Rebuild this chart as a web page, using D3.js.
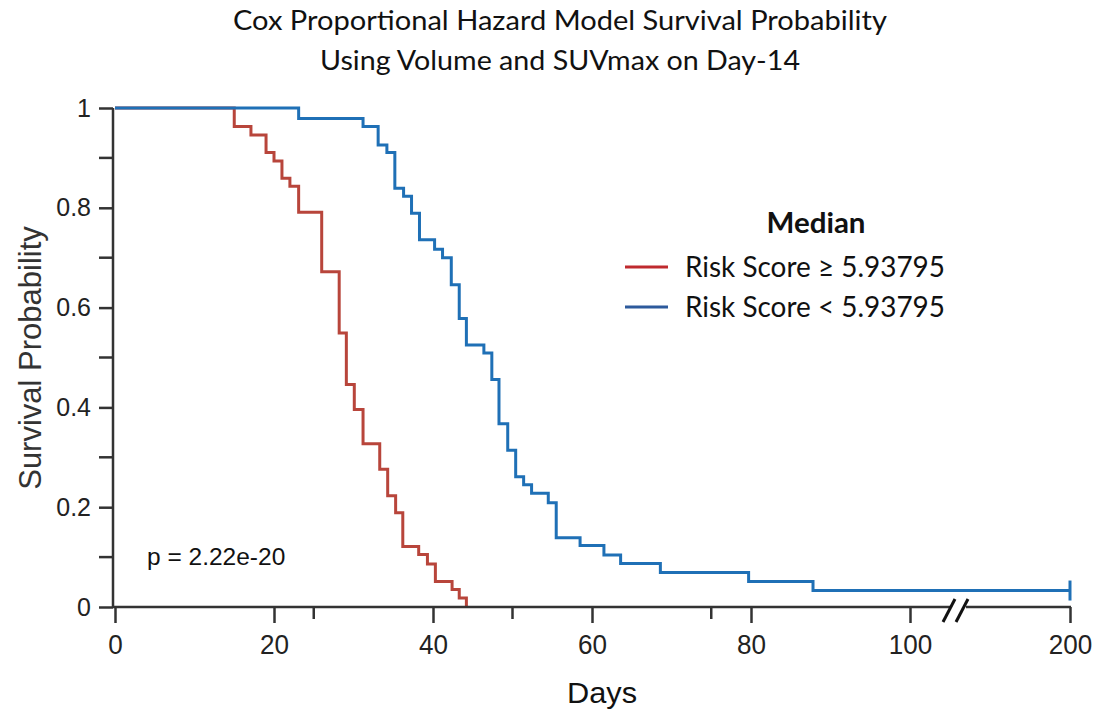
<!DOCTYPE html>
<html>
<head>
<meta charset="utf-8">
<script src="https://cdn.jsdelivr.net/npm/d3@7"></script>
<style>
  html, body { margin: 0; padding: 0; background: #fff; }
  svg { display: block; }
</style>
</head>
<body>
<svg id="chart" width="1107" height="712"></svg>
<script>
// Kaplan–Meier style step data: event times (days) and survival after each drop
const highRiskDays = [0, 15, 17.1, 19, 20, 21, 22, 23.1, 26, 28.2, 29.1, 30.1, 31.2, 33.3, 34.3, 35.3, 36.2, 38.2, 39.3, 40.3, 42.4, 43.3, 44.2];
const highRiskSurv = [1, 0.963, 0.946, 0.911, 0.894, 0.859, 0.843, 0.791, 0.672, 0.549, 0.446, 0.396, 0.327, 0.276, 0.223, 0.189, 0.121, 0.105, 0.086, 0.051, 0.035, 0.018, 0];

const lowRiskDays = [0, 23.1, 31.2, 33.1, 34.2, 35.2, 36.3, 37.3, 38.3, 40.2, 41.2, 42.3, 43.3, 44.2, 46.4, 47.4, 48.3, 49.4, 50.4, 51.4, 52.4, 54.5, 55.5, 58.5, 61.5, 63.6, 68.6, 79.7, 87.8, 200];
const lowRiskSurv = [1, 0.979, 0.963, 0.926, 0.911, 0.839, 0.823, 0.789, 0.736, 0.717, 0.700, 0.646, 0.578, 0.525, 0.509, 0.456, 0.367, 0.314, 0.261, 0.245, 0.228, 0.209, 0.139, 0.123, 0.104, 0.087, 0.069, 0.051, 0.033, 0.033];

const xMajorTicks = [0, 20, 40, 60, 80, 100, 200];
const xMinorTicks = [25, 50, 75];
const yMajorTicks = [0, 0.2, 0.4, 0.6, 0.8, 1];
const yMinorTicks = [0.1, 0.3, 0.5, 0.7, 0.9];

const titleLines = ["Cox Proportional Hazard Model Survival Probability", "Using Volume and SUVmax on Day-14"];
const legendTitle = "Median";
const legendLabels = ["Risk Score \u2265 5.93795", "Risk Score < 5.93795"];
const pLabel = "p = 2.22e-20";

const redCurve = "#b8453b", blueCurve = "#1f70b6";
const redKey = "#bf2a2e", blueKey = "#2d5a9c";
const axisColor = "#333333";

const svg = d3.select("#chart");

// Broken x axis: 0–100 linear, then 100–200 compressed after the break
const x = d3.scaleLinear().domain([0, 100, 200]).range([115, 910, 1070]);
const y = d3.scaleLinear().domain([0, 1]).range([607, 108]);

const toPts = (days, surv) => days.map((d, i) => [d, surv[i]]);
const line = d3.line().x(d => x(d[0])).y(d => y(d[1])).curve(d3.curveStepAfter);

// Curves (high risk under, low risk on top)
svg.append("path").datum(toPts(highRiskDays, highRiskSurv))
  .attr("d", line).attr("fill", "none").attr("stroke", redCurve).attr("stroke-width", 3);
svg.append("path").datum(toPts(lowRiskDays, lowRiskSurv))
  .attr("d", line).attr("fill", "none").attr("stroke", blueCurve).attr("stroke-width", 3);

// Censor mark at end of follow-up
const lastDay = lowRiskDays[lowRiskDays.length - 1];
const lastSurv = lowRiskSurv[lowRiskSurv.length - 1];
svg.append("line")
  .attr("x1", x(lastDay)).attr("x2", x(lastDay))
  .attr("y1", y(lastSurv) - 10).attr("y2", y(lastSurv) + 10)
  .attr("stroke", blueCurve).attr("stroke-width", 3);

// X axis with break
const gx = svg.append("g").attr("transform", `translate(0,${y(0)})`);
const xAxis = d3.axisBottom(x).tickValues(xMajorTicks).tickSize(16).tickPadding(11).tickFormat(d3.format("d"));
gx.call(xAxis);
gx.select(".domain").remove();
gx.selectAll(".tick line").attr("stroke", axisColor).attr("stroke-width", 2.5);
gx.selectAll(".tick text").attr("fill", "#222")
  .style("font-family", "'Liberation Sans', Arial, sans-serif")
  .style("font-size", "28px")
  .attr("textLength", d => String(d).length * 14.5)
  .attr("lengthAdjust", "spacingAndGlyphs");
gx.selectAll(".minor").data(xMinorTicks).enter().append("line")
  .attr("x1", d => x(d)).attr("x2", d => x(d)).attr("y1", 0).attr("y2", 12)
  .attr("stroke", axisColor).attr("stroke-width", 2.5);

const breakA = 950, breakB = 966;
gx.append("line").attr("x1", x(0) - 2).attr("x2", breakA).attr("y1", 0).attr("y2", 0)
  .attr("stroke", axisColor).attr("stroke-width", 2.5);
gx.append("line").attr("x1", breakB).attr("x2", x(200) + 1).attr("y1", 0).attr("y2", 0)
  .attr("stroke", axisColor).attr("stroke-width", 2.5);
[breakA - 3, breakB - 6].forEach(bx => {
  gx.append("line").attr("x1", bx - 4).attr("y1", 15).attr("x2", bx + 8).attr("y2", -8)
    .attr("stroke", "#111").attr("stroke-width", 3);
});

// Y axis
const gy = svg.append("g").attr("transform", `translate(${x(0) - 2},0)`);
const yAxis = d3.axisLeft(y).tickValues(yMajorTicks).tickSize(14).tickPadding(8).tickFormat(d => d3.format("~g")(d));
gy.call(yAxis);
gy.select(".domain").attr("stroke", axisColor).attr("stroke-width", 2.5).attr("d", `M0,${y(0) + 1}V${y(1)}`);
gy.selectAll(".tick line").attr("stroke", axisColor).attr("stroke-width", 2.5);
gy.selectAll(".tick text").attr("fill", "#222").style("font-family", "'Liberation Sans', Arial, sans-serif").style("font-size", "25px");
gy.selectAll(".minor").data(yMinorTicks).enter().append("line")
  .attr("x1", -14).attr("x2", 0).attr("y1", d => y(d)).attr("y2", d => y(d))
  .attr("stroke", axisColor).attr("stroke-width", 2.5);

// Axis titles
svg.append("text").attr("x", 602).attr("y", 703).attr("text-anchor", "middle")
  .style("font-family", "'Liberation Sans', Arial, sans-serif").style("font-size", "30px").attr("fill", "#111")
  .attr("textLength", 70).attr("lengthAdjust", "spacingAndGlyphs")
  .text("Days");
svg.append("text").attr("transform", "translate(41,358) rotate(-90)").attr("text-anchor", "middle")
  .style("font-family", "'Liberation Sans', Arial, sans-serif").style("font-size", "31px").attr("fill", "#333")
  .text("Survival Probability");

// Title
const titleFont = "Lato, 'Open Sans', sans-serif";
svg.append("text").attr("x", 560).attr("y", 30).attr("text-anchor", "middle")
  .style("font-family", titleFont).style("font-size", "27px").attr("fill", "#111")
  .attr("textLength", 654).attr("lengthAdjust", "spacingAndGlyphs")
  .text(titleLines[0]);
svg.append("text").attr("x", 560).attr("y", 70).attr("text-anchor", "middle")
  .style("font-family", titleFont).style("font-size", "27px").attr("fill", "#111")
  .attr("textLength", 480).attr("lengthAdjust", "spacingAndGlyphs")
  .text(titleLines[1]);

// Legend
svg.append("text").attr("x", 816).attr("y", 233).attr("text-anchor", "middle")
  .style("font-family", titleFont).style("font-size", "28px").style("font-weight", "bold").attr("fill", "#111")
  .attr("textLength", 99).attr("lengthAdjust", "spacingAndGlyphs")
  .text(legendTitle);
const keyColors = [redKey, blueKey];
legendLabels.forEach((lab, i) => {
  const ly = 267 + i * 40;
  svg.append("line").attr("x1", 625).attr("x2", 668).attr("y1", ly).attr("y2", ly)
    .attr("stroke", keyColors[i]).attr("stroke-width", 3);
  svg.append("text").attr("x", 685).attr("y", ly + 10)
    .style("font-family", titleFont).style("font-size", "29px").attr("fill", "#111")
    .attr("textLength", 260).attr("lengthAdjust", "spacingAndGlyphs")
    .text(lab);
});

// p-value
svg.append("text").attr("x", 147).attr("y", 565)
  .style("font-family", "'Liberation Sans', Arial, sans-serif").style("font-size", "24.5px").attr("fill", "#111")
  .text(pLabel);
</script>
</body>
</html>
